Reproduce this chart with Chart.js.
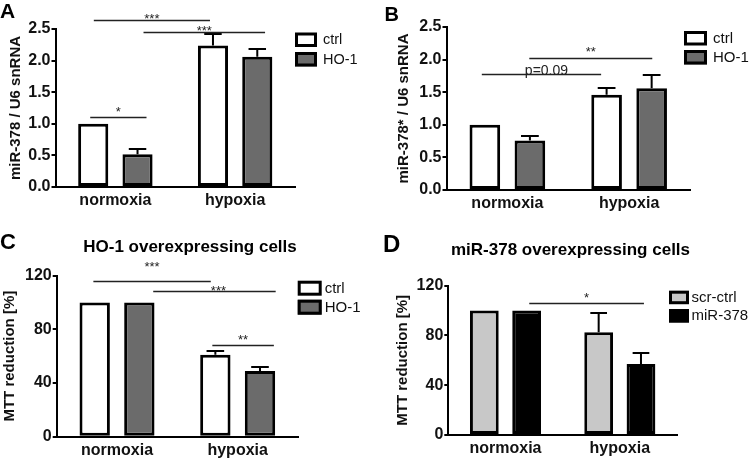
<!DOCTYPE html>
<html>
<head>
<meta charset="utf-8">
<script src="https://cdn.jsdelivr.net/npm/chart.js@4.4.0/dist/chart.umd.min.js"></script>
<style>
  body { margin: 0; background: #fff; }
  #fig { position: relative; width: 750px; height: 458px; background: #fff; }
  #fig canvas { position: absolute; }
</style>
</head>
<body>
<div id="fig">
  <canvas id="panelA" width="375" height="229" style="left:0;top:0"></canvas>
  <canvas id="panelB" width="375" height="229" style="left:375px;top:0"></canvas>
  <canvas id="panelC" width="375" height="229" style="left:0;top:229px"></canvas>
  <canvas id="panelD" width="375" height="229" style="left:375px;top:229px"></canvas>
</div>
<script>
// data
const categories = ['normoxia', 'hypoxia'];

// A: miR-378 / U6 snRNA
const aCtrl = [1.00, 2.24];
const aCtrlErr = [0, 0.18];
const aHo1 = [0.52, 2.06];
const aHo1Err = [0.08, 0.13];
const aTicks = [0, 0.5, 1.0, 1.5, 2.0, 2.5];

// B: miR-378* / U6 snRNA
const bCtrl = [1.00, 1.46];
const bCtrlErr = [0, 0.11];
const bHo1 = [0.76, 1.56];
const bHo1Err = [0.07, 0.20];
const bTicks = [0, 0.5, 1.0, 1.5, 2.0, 2.5];

// C: MTT, HO-1 overexpressing cells
const cCtrl = [100, 61];
const cCtrlErr = [0, 3];
const cHo1 = [100, 49];
const cHo1Err = [0, 3];
const cTicks = [0, 40, 80, 120];

// D: MTT, miR-378 overexpressing cells
const dScr = [100, 82.5];
const dScrErr = [0, 15.3];
const dMir = [100, 57];
const dMirErr = [0, 8.7];
const dTicks = [0, 40, 80, 120];

// significance bars: from/to in category units, y in data units
const aSig = [
  { from: -0.18, to: 0.79, y: 2.64, label: '***', base: 2 },
  { from: 0.235, to: 1.25, y: 2.46, label: '***', base: 2 },
  { from: -0.21, to: 0.26, y: 1.11, label: '*', base: -2 }
];
const bSig = [
  { from: -0.21, to: 0.77, y: 1.78, label: 'p=0.09', base: 0, dx: 5, size: 14 },
  { from: 0.18, to: 1.19, y: 2.02, label: '**', base: -2.5 }
];
const cSig = [
  { from: -0.196, to: 0.777, y: 115.8, label: '***', base: -11 },
  { from: 0.30, to: 1.315, y: 108.9, label: '***', base: 3, dx: 4 },
  { from: 0.79, to: 1.30, y: 68.3, label: '**', base: -1.3 }
];
const dSig = [
  { from: 0.208, to: 1.211, y: 105.8, label: '*', base: -1.7 }
];

const FONT = "'Liberation Sans', Arial, Helvetica, sans-serif";
Chart.defaults.font.family = FONT;
Chart.defaults.color = '#111';

// error bars (upper only)
const errorBars = {
  id: 'errorBars',
  afterDatasetsDraw(chart) {
    const ctx = chart.ctx;
    const ys = chart.scales.y;
    chart.data.datasets.forEach((ds, i) => {
      chart.getDatasetMeta(i).data.forEach((bar, j) => {
        const e = ds.err[j];
        if (!e) return;
        const y0 = ys.getPixelForValue(ds.data[j]);
        const y1 = Math.round(ys.getPixelForValue(ds.data[j] + e));
        const half = bar.width * 0.29;
        ctx.save();
        ctx.strokeStyle = '#000';
        ctx.lineWidth = 2;
        ctx.beginPath();
        ctx.moveTo(bar.x, y0);
        ctx.lineTo(bar.x, y1);
        ctx.moveTo(bar.x - half, y1);
        ctx.lineTo(bar.x + half, y1);
        ctx.stroke();
        ctx.restore();
      });
    });
  }
};

// significance lines
const sigLines = {
  id: 'sigLines',
  afterDraw(chart, args, opts) {
    const ctx = chart.ctx;
    const xs = chart.scales.x, ys = chart.scales.y;
    (opts.items || []).forEach(s => {
      const x1 = xs.getPixelForValue(s.from);
      const x2 = xs.getPixelForValue(s.to);
      const py = Math.round(ys.getPixelForValue(s.y)) + 0.5;
      ctx.save();
      ctx.strokeStyle = '#222';
      ctx.lineWidth = 1.5;
      ctx.beginPath();
      ctx.moveTo(x1, py);
      ctx.lineTo(x2, py);
      ctx.stroke();
      ctx.fillStyle = '#222';
      ctx.font = (s.size || 13) + 'px ' + FONT;
      ctx.textAlign = 'center';
      ctx.textBaseline = 'alphabetic';
      ctx.fillText(s.label, (x1 + x2) / 2 + (s.dx || 0), py + s.base);
      ctx.restore();
    });
  }
};

// panel letter, title, legend
const deco = {
  id: 'deco',
  afterDraw(chart, args, o) {
    const ctx = chart.ctx;
    ctx.save();
    ctx.fillStyle = '#000';
    ctx.textBaseline = 'alphabetic';
    ctx.textAlign = 'left';
    ctx.font = 'bold ' + o.letter.size + 'px ' + FONT;
    ctx.fillText(o.letter.text, o.letter.x, o.letter.y);
    if (o.title) {
      ctx.textAlign = 'center';
      ctx.font = 'bold ' + o.title.size + 'px ' + FONT;
      ctx.fillText(o.title.text, o.title.x, o.title.y);
    }
    const lg = o.legend;
    ctx.textAlign = 'left';
    ctx.textBaseline = 'middle';
    ctx.font = lg.size + 'px ' + FONT;
    chart.data.datasets.forEach((ds, i) => {
      const by = lg.y + i * lg.step;
      ctx.fillStyle = ds.backgroundColor;
      ctx.fillRect(lg.x, by, lg.w, lg.h);
      ctx.strokeStyle = '#000';
      ctx.lineWidth = 3;
      ctx.strokeRect(lg.x + 1.5, by + 1.5, lg.w - 3, lg.h - 3);
      ctx.fillStyle = '#111';
      ctx.fillText(ds.label, lg.x + lg.textOff, by + lg.h / 2 + 0.5);
    });
    ctx.restore();
  }
};

function makePanel(id, p) {
  return new Chart(document.getElementById(id), {
    type: 'bar',
    data: {
      labels: categories,
      datasets: p.series.map(s => ({
        label: s.label,
        data: s.values,
        err: s.err,
        backgroundColor: s.color,
        borderColor: '#000',
        borderWidth: 3,
        borderSkipped: false,
        categoryPercentage: 0.74,
        barPercentage: 0.68
      }))
    },
    options: {
      responsive: false,
      animation: false,
      layout: { padding: { left: 0, top: p.area.top, right: 375 - p.area.right, bottom: 0 } },
      scales: {
        x: {
          grid: { display: false, drawTicks: false },
          border: { color: '#000', width: 2 },
          ticks: { font: { size: 16, weight: 'bold' }, color: '#111', padding: 4 },
          afterFit: s => { s.height = 229 - p.area.bottom; }
        },
        y: {
          min: p.ticks[0],
          max: p.ticks[p.ticks.length - 1],
          afterBuildTicks: s => { s.ticks = p.ticks.map(v => ({ value: v })); },
          grid: { drawOnChartArea: false, drawTicks: true, tickLength: 4, color: '#000', lineWidth: 2 },
          border: { color: '#000', width: 2 },
          ticks: { font: { size: 16, weight: 'bold' }, color: '#111', padding: 1, callback: p.fmt },
          title: { display: true, text: p.yTitle, color: '#111', font: { size: 15, weight: 'bold' }, padding: { top: p.yTitlePad, bottom: 0 } },
          afterFit: s => { s.width = p.area.left; }
        }
      },
      plugins: {
        legend: { display: false },
        tooltip: { enabled: false },
        sigLines: { items: p.sig },
        deco: { letter: p.letter, title: p.title, legend: p.legend }
      }
    },
    plugins: [errorBars, sigLines, deco]
  });
}

const WHITE = '#ffffff', GREY = '#6b6b6b', LIGHT = '#c8c8c8', BLACK = '#000000';
const fmt1 = v => Number(v).toFixed(1);
const fmt0 = v => String(v);

makePanel('panelA', {
  series: [
    { label: 'ctrl', values: aCtrl, err: aCtrlErr, color: WHITE },
    { label: 'HO-1', values: aHo1, err: aHo1Err, color: GREY }
  ],
  ticks: aTicks, fmt: fmt1, sig: aSig,
  yTitle: 'miR-378 / U6 snRNA', yTitlePad: 7,
  area: { left: 55.5, right: 295, top: 29, bottom: 187 },
  letter: { text: 'A', x: 0, y: 17.5, size: 21 },
  legend: { x: 295, y: 32.5, w: 22, h: 14.5, step: 19.5, textOff: 28, size: 14.5 }
});

makePanel('panelB', {
  series: [
    { label: 'ctrl', values: bCtrl, err: bCtrlErr, color: WHITE },
    { label: 'HO-1', values: bHo1, err: bHo1Err, color: GREY }
  ],
  ticks: bTicks, fmt: fmt1, sig: bSig,
  yTitle: 'miR-378* / U6 snRNA', yTitlePad: 19.5,
  area: { left: 71.5, right: 315, top: 27, bottom: 190 },
  letter: { text: 'B', x: 9.5, y: 21, size: 20 },
  legend: { x: 309, y: 31, w: 23, h: 14.5, step: 19, textOff: 29, size: 15 }
});

makePanel('panelC', {
  series: [
    { label: 'ctrl', values: cCtrl, err: cCtrlErr, color: WHITE },
    { label: 'HO-1', values: cHo1, err: cHo1Err, color: GREY }
  ],
  ticks: cTicks, fmt: fmt0, sig: cSig,
  yTitle: 'MTT reduction [%]', yTitlePad: 0.5,
  area: { left: 56.7, right: 298, top: 46.7, bottom: 207.7 },
  letter: { text: 'C', x: 0, y: 20, size: 22 },
  title: { text: 'HO-1 overexpressing cells', x: 190, y: 23, size: 17 },
  legend: { x: 297.7, y: 51.7, w: 24, h: 15, step: 19, textOff: 27, size: 15 }
});

makePanel('panelD', {
  series: [
    { label: 'scr-ctrl', values: dScr, err: dScrErr, color: LIGHT },
    { label: 'miR-378', values: dMir, err: dMirErr, color: BLACK }
  ],
  ticks: dTicks, fmt: fmt0, sig: dSig,
  yTitle: 'MTT reduction [%]', yTitlePad: 19,
  area: { left: 73.3, right: 302, top: 56.7, bottom: 206 },
  letter: { text: 'D', x: 8, y: 23.3, size: 24 },
  title: { text: 'miR-378 overexpressing cells', x: 195.5, y: 26, size: 17 },
  legend: { x: 294, y: 61.7, w: 20, h: 13.5, step: 18.3, textOff: 22.5, size: 15 }
});
</script>
</body>
</html>
